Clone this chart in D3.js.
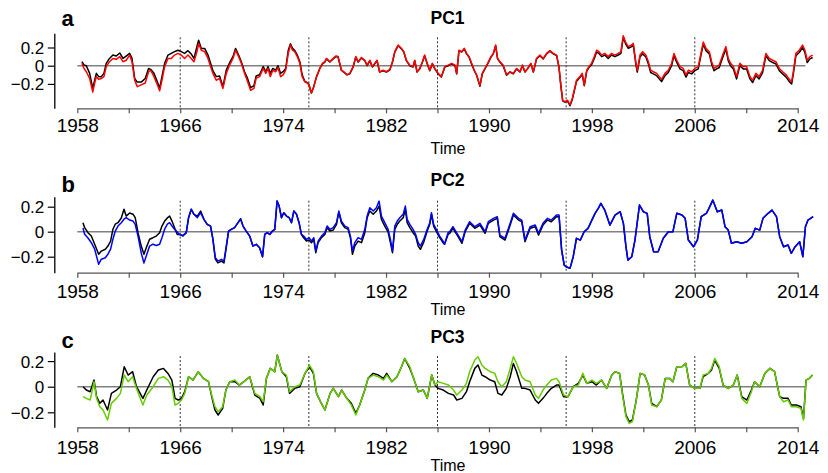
<!DOCTYPE html>
<html><head><meta charset="utf-8">
<script src="https://cdn.jsdelivr.net/npm/d3@7"></script>
<style>body{margin:0;background:#fff}svg{display:block;font-family:"Liberation Sans",Arial,Helvetica,sans-serif}</style>
</head><body><svg id="c" width="828" height="473"></svg>
<script>
const xTicks=[1958,1962,1966,1970,1974,1978,1982,1986,1990,1994,1998,2002,2006,2010,2014];
const xLabels=[1958,1966,1974,1982,1990,1998,2006,2014];
const breakYears=[1966,1976,1986,1996,2006];
const yTicks=[-0.2,0,0.2];
const panelTitles=["PC1","PC2","PC3"];
const panelLetters=["a","b","c"];
const seriesColors=["#ff0000","#0000ff","#66cc00"];

const pc1Years=[
1958.36,1958.52,1958.7,1958.96,1959.2,1959.35,1959.48,1959.66,1959.87,1960.07,
1960.25,1960.5,1960.77,1961.03,1961.3,1961.55,1961.8,1962.07,1962.25,1962.46,
1962.66,1962.97,1963.28,1963.54,1963.7,1963.96,1964.22,1964.4,1964.58,1964.79,
1965.05,1965.3,1965.56,1965.82,1966.08,1966.34,1966.6,1966.86,1967.07,1967.33,
1967.43,1967.64,1967.9,1968.16,1968.36,1968.54,1968.8,1969.06,1969.32,1969.58,
1969.84,1970.1,1970.3,1970.54,1970.75,1971.0,1971.2,1971.47,1971.73,1971.9,
1972.17,1972.45,1972.65,1972.83,1973.0,1973.2,1973.43,1973.6,1973.8,1974.0,
1974.2,1974.4,1974.57,1974.73,1974.9,1975.1,1975.3,1975.48,1975.68,1975.87,
1976.0,1976.2,1976.38,1976.6,1976.85,1977.06,1977.24,1977.37,1977.63,1977.89,
1978.1,1978.27,1978.53,1978.71,1978.97,1979.18,1979.44,1979.65,1979.83,1980.09,
1980.35,1980.53,1980.74,1980.94,1981.12,1981.3,1981.5,1981.77,1982.03,1982.3,
1982.5,1982.68,1982.94,1983.2,1983.38,1983.58,1983.84,1984.1,1984.23,1984.41,
1984.62,1984.83,1985.0,1985.2,1985.4,1985.6,1985.79,1986.05,1986.3,1986.57,
1986.84,1987.1,1987.36,1987.49,1987.67,1987.88,1988.08,1988.26,1988.45,1988.65,
1988.86,1989.04,1989.3,1989.48,1989.69,1989.9,1990.16,1990.34,1990.52,1990.67,
1990.85,1991.1,1991.37,1991.63,1991.89,1992.15,1992.41,1992.6,1992.8,1993.0,
1993.26,1993.45,1993.7,1993.96,1994.22,1994.48,1994.74,1995.0,1995.26,1995.44,
1995.6,1995.73,1995.9,1996.11,1996.3,1996.48,1996.63,1996.81,1997.07,1997.25,
1997.41,1997.6,1997.77,1997.98,1998.19,1998.37,1998.55,1998.76,1999.0,1999.27,
1999.53,1999.79,2000.05,2000.26,2000.44,2000.62,2000.83,2001.09,2001.22,2001.43,
2001.53,2001.74,2001.95,2002.2,2002.39,2002.57,2002.78,2003.04,2003.24,2003.42,
2003.68,2003.94,2004.2,2004.38,2004.6,2004.85,2005.1,2005.32,2005.5,2005.76,
2006.0,2006.27,2006.45,2006.66,2006.87,2007.13,2007.31,2007.5,2007.7,2007.9,
2008.17,2008.42,2008.6,2008.78,2009.0,2009.25,2009.5,2009.77,2010.03,2010.29,
2010.5,2010.75,2011.0,2011.27,2011.53,2011.79,2012.05,2012.3,2012.57,2012.83,
2013.1,2013.35,2013.53,2013.66,2013.86,2014.12,2014.38,2014.56,2014.74,2014.95,
2015.16];
const pc1Color=[
0.026,-0.03,-0.066,-0.14,-0.29,-0.19,-0.12,-0.15,-0.14,-0.12,
-0.01,0.044,0.08,0.07,0.1,0.044,0.06,0.117,0.044,-0.16,
-0.23,-0.21,-0.19,-0.066,-0.05,-0.12,-0.21,-0.275,-0.16,-0.01,
0.08,0.08,0.117,0.135,0.117,0.08,0.117,0.08,0.044,0.17,
0.245,0.17,0.154,0.08,-0.01,-0.084,-0.16,-0.14,-0.25,-0.084,
0.007,0.08,0.17,0.1,0.026,-0.084,-0.16,-0.27,-0.25,-0.14,
-0.12,-0.03,-0.084,-0.03,-0.12,-0.05,-0.066,-0.02,-0.12,-0.1,
-0.05,0.135,0.227,0.17,0.154,0.1,0.026,-0.12,-0.176,-0.19,
-0.21,-0.3,-0.23,-0.12,-0.03,0.026,0.044,0.08,0.044,0.08,
0.106,0.1,-0.05,-0.066,-0.1,-0.084,-0.01,0.1,0.044,0.09,
0.06,0.007,0.06,-0.01,0.026,0.06,-0.066,-0.05,-0.066,-0.04,
0.044,0.154,0.227,0.19,0.154,0.06,0.007,-0.01,0.06,-0.066,
-0.03,0.044,0.117,0.026,-0.05,0.026,-0.03,-0.084,-0.12,-0.01,
0.007,0.026,0.007,-0.084,0.17,0.154,0.19,0.135,0.1,0.026,
-0.05,-0.1,-0.22,-0.084,-0.03,0.026,0.1,0.135,0.227,0.08,
0.044,0.007,-0.1,-0.066,-0.084,-0.03,-0.066,0.007,-0.066,-0.03,
0.026,-0.066,0.08,0.117,0.08,0.135,0.165,0.135,0.117,-0.01,
-0.23,-0.38,-0.395,-0.38,-0.43,-0.36,-0.27,-0.16,-0.12,-0.084,
-0.21,-0.05,-0.01,0.026,0.1,0.17,0.154,0.117,0.135,0.1,
0.135,0.117,0.135,0.154,0.33,0.26,0.21,0.227,0.245,0.026,
-0.05,0.117,0.154,0.117,0.044,-0.05,-0.066,-0.084,-0.12,-0.15,
-0.084,-0.05,0.026,0.135,0.06,-0.01,-0.03,-0.1,-0.05,-0.066,
-0.03,-0.01,0.117,0.26,0.19,0.154,0.044,-0.03,-0.01,0.007,
0.117,0.21,0.08,0.026,-0.01,-0.12,0.026,-0.01,-0.01,-0.12,
-0.16,-0.084,-0.12,-0.05,0.135,0.08,0.06,0.044,-0.03,-0.066,
-0.1,-0.15,-0.176,-0.066,0.135,0.17,0.227,0.17,0.06,0.1,
0.117];
const pc1Black=[
0.044,0.007,0.0,-0.084,-0.25,-0.16,-0.084,-0.12,-0.12,-0.084,
0.026,0.08,0.117,0.106,0.14,0.08,0.106,0.135,0.08,-0.14,
-0.18,-0.18,-0.14,-0.03,-0.04,-0.084,-0.176,-0.25,-0.12,0.026,
0.117,0.135,0.154,0.17,0.154,0.135,0.165,0.128,0.08,0.227,
0.28,0.19,0.19,0.117,0.026,-0.055,-0.12,-0.114,-0.23,-0.048,
0.033,0.1,0.19,0.117,0.044,-0.066,-0.128,-0.24,-0.22,-0.114,
-0.1,-0.01,-0.066,-0.01,-0.084,-0.03,-0.048,0.0,-0.084,-0.066,
-0.03,0.17,0.24,0.19,0.17,0.117,0.044,-0.1,-0.17,-0.185,
-0.205,-0.3,-0.23,-0.12,-0.03,0.02,0.04,0.075,0.04,0.075,
0.1,0.095,-0.05,-0.07,-0.1,-0.09,-0.015,0.095,0.04,0.085,
0.055,0.0,0.055,-0.015,0.02,0.055,-0.07,-0.055,-0.07,-0.045,
0.04,0.15,0.22,0.185,0.15,0.055,0.0,-0.015,0.055,-0.07,
-0.035,0.04,0.11,0.02,-0.055,0.02,-0.035,-0.09,-0.125,-0.015,
0.0,0.02,0.0,-0.09,0.165,0.15,0.185,0.13,0.095,0.02,
-0.055,-0.105,-0.225,-0.09,-0.035,0.02,0.095,0.13,0.22,0.075,
0.04,0.0,-0.105,-0.07,-0.09,-0.035,-0.07,0.0,-0.07,-0.035,
0.02,-0.07,0.075,0.11,0.075,0.13,0.16,0.13,0.11,-0.015,
-0.235,-0.385,-0.4,-0.39,-0.44,-0.37,-0.28,-0.17,-0.13,-0.095,
-0.22,-0.06,-0.02,0.01,0.08,0.15,0.135,0.1,0.117,0.08,
0.117,0.1,0.117,0.135,0.31,0.24,0.19,0.21,0.225,0.005,
-0.07,0.095,0.13,0.095,0.02,-0.075,-0.09,-0.11,-0.145,-0.175,
-0.11,-0.075,0.0,0.11,0.035,-0.035,-0.055,-0.125,-0.075,-0.09,
-0.055,-0.035,0.095,0.235,0.165,0.13,0.02,-0.055,-0.035,-0.02,
0.09,0.185,0.055,0.0,-0.035,-0.145,0.0,-0.035,-0.035,-0.145,
-0.185,-0.11,-0.145,-0.075,0.11,0.055,0.035,0.02,-0.055,-0.09,
-0.125,-0.175,-0.2,-0.09,0.11,0.145,0.2,0.145,0.035,0.075,
0.09];

const pc2Years=[
1958.44,1958.57,1958.83,1959.09,1959.35,1959.66,1959.87,1960.18,1960.38,1960.59,
1960.77,1960.95,1961.16,1961.42,1961.63,1961.8,1962.07,1962.33,1962.5,1962.72,
1962.97,1963.18,1963.36,1963.62,1963.88,1964.14,1964.4,1964.58,1964.79,1965.0,
1965.18,1965.36,1965.56,1965.77,1965.95,1966.21,1966.47,1966.65,1966.86,1967.07,
1967.33,1967.59,1967.84,1968.1,1968.36,1968.54,1968.73,1968.93,1969.2,1969.4,
1969.58,1969.76,1969.97,1970.23,1970.49,1970.7,1970.88,1971.13,1971.4,1971.65,
1971.91,1972.17,1972.4,1972.57,1972.76,1972.96,1973.17,1973.35,1973.53,1973.69,
1973.87,1974.05,1974.26,1974.47,1974.65,1974.83,1975.04,1975.24,1975.42,1975.6,
1975.81,1976.02,1976.2,1976.38,1976.54,1976.72,1976.98,1977.24,1977.42,1977.63,
1977.89,1978.15,1978.33,1978.53,1978.8,1979.05,1979.23,1979.39,1979.57,1979.83,
1980.09,1980.35,1980.53,1980.74,1981.0,1981.25,1981.46,1981.64,1981.9,1982.16,
1982.34,1982.5,1982.68,1982.87,1983.07,1983.33,1983.5,1983.64,1983.85,1984.1,
1984.3,1984.5,1984.67,1984.93,1985.2,1985.4,1985.53,1985.7,1985.9,1986.17,
1986.43,1986.55,1986.82,
1986.95,1987.2,1987.6,1987.9,1988.15,1988.5,1988.9,1989.3,1989.7,1989.95,
1990.35,1990.65,1990.85,1991.25,1991.65,1991.9,1992.3,1992.55,1992.8,1993.2,
1993.6,1993.85,1994.2,1994.55,1994.85,1995.25,1995.45,1995.65,1995.85,1996.0,
1996.3,1996.55,1996.8,1997.1,1997.4,1997.7,1998.0,1998.25,1998.5,1998.7,
1999.0,1999.4,1999.8,2000.2,2000.45,2000.65,2000.8,2001.1,2001.35,2001.7,
2002.0,2002.3,2002.5,2002.8,2003.15,2003.55,2003.95,2004.3,2004.6,2005.0,
2005.25,2005.5,2005.9,2006.2,2006.5,2006.9,2007.1,2007.4,2007.75,2008.1,
2008.35,2008.6,2008.85,2009.25,2009.65,2010.05,2010.45,2010.7,2011.05,2011.3,
2011.7,2012.0,2012.35,2012.6,2012.9,2013.25,2013.5,2013.8,2014.15,2014.4,
2014.6,2014.8,2015.2];
const pc2Color=[
0.03,-0.02,-0.05,-0.088,-0.14,-0.26,-0.22,-0.208,-0.18,-0.14,
-0.06,0.005,0.045,0.072,0.1,0.112,0.093,0.085,0.059,-0.035,
-0.17,-0.25,-0.195,-0.115,-0.1,-0.11,-0.1,-0.048,0.02,0.06,
0.072,0.045,0.02,-0.003,-0.022,-0.03,-0.008,0.112,0.179,0.139,
0.112,0.152,0.099,0.059,0.045,-0.06,-0.208,-0.235,-0.221,-0.235,
-0.115,0.005,0.019,0.032,0.072,0.099,0.045,0.005,-0.035,-0.115,
-0.101,-0.128,-0.2,-0.022,-0.008,-0.022,0.005,0.019,0.245,0.205,
0.112,0.152,0.125,0.112,0.072,0.165,0.139,0.072,-0.022,-0.035,
-0.062,-0.048,-0.075,-0.048,-0.155,-0.075,-0.035,-0.008,0.045,0.019,
0.032,0.072,0.165,0.085,0.045,0.032,-0.035,-0.155,-0.088,-0.048,
-0.062,0.019,0.125,0.192,0.165,0.192,0.245,0.125,0.072,0.019,
-0.062,-0.155,0.045,0.085,0.112,0.139,0.205,0.099,0.059,0.019,
-0.022,-0.088,-0.115,-0.062,0.019,0.072,0.152,0.059,0.019,-0.035,
-0.075,-0.101,-0.008,
0.0,0.04,-0.027,-0.08,0.013,0.08,0.04,0.067,0.0,0.08,
0.107,0.12,-0.027,-0.053,0.067,0.147,0.107,0.093,-0.067,0.04,
0.053,-0.013,0.067,0.107,0.093,0.133,0.133,-0.147,-0.267,-0.28,
-0.293,-0.2,-0.053,-0.067,0.0,0.027,0.093,0.147,0.187,0.227,
0.173,0.053,0.133,0.16,0.067,-0.12,-0.227,-0.2,-0.067,0.213,
0.16,0.147,-0.04,-0.16,-0.16,-0.053,0.0,0.0,0.147,0.133,
0.107,-0.067,-0.12,-0.067,0.12,0.147,0.187,0.253,0.16,0.173,
0.04,0.013,-0.093,-0.08,-0.093,-0.08,-0.04,0.027,0.013,0.107,
0.147,0.173,0.12,-0.04,-0.12,-0.107,-0.173,-0.12,-0.08,-0.2,
0.04,0.093,0.12];
const pc2Black=[
0.072,0.032,-0.008,-0.035,-0.1,-0.18,-0.155,-0.14,-0.115,-0.075,
0.02,0.06,0.072,0.11,0.18,0.125,0.15,0.14,0.112,-0.008,
-0.115,-0.18,-0.128,-0.06,-0.048,-0.035,-0.008,0.045,0.085,0.11,
0.125,0.085,0.032,-0.022,-0.022,-0.035,-0.008,0.112,0.179,0.139,
0.125,0.165,0.099,0.059,0.045,-0.06,-0.22,-0.25,-0.235,-0.25,
-0.128,0.005,0.019,0.032,0.072,0.104,0.045,0.005,-0.035,-0.115,
-0.101,-0.128,-0.2,-0.022,-0.008,-0.022,0.005,0.019,0.245,0.205,
0.112,0.152,0.125,0.112,0.072,0.165,0.139,0.072,-0.022,-0.048,
-0.075,-0.067,-0.088,-0.062,-0.168,-0.088,-0.048,-0.022,0.032,0.005,
0.013,0.059,0.157,0.072,0.032,0.019,-0.048,-0.181,-0.115,-0.075,
-0.088,-0.008,0.112,0.165,0.139,0.165,0.205,0.099,0.045,-0.003,
-0.088,-0.168,0.019,0.059,0.085,0.112,0.179,0.072,0.032,-0.008,
-0.035,-0.115,-0.141,-0.083,0.005,0.059,0.139,0.045,0.005,-0.048,
-0.088,-0.101,-0.022,
-0.013,0.027,-0.04,-0.093,0.0,0.067,0.027,0.053,-0.013,0.067,
0.093,0.107,-0.04,-0.067,0.053,0.133,0.093,0.08,-0.08,0.027,
0.04,-0.027,0.053,0.093,0.08,0.12,0.12,-0.147,-0.267,-0.28,
-0.293,-0.2,-0.053,-0.067,0.0,0.027,0.093,0.147,0.187,0.227,
0.173,0.053,0.133,0.16,0.067,-0.12,-0.227,-0.2,-0.067,0.213,
0.16,0.147,-0.04,-0.16,-0.16,-0.053,0.0,0.0,0.147,0.133,
0.107,-0.067,-0.12,-0.067,0.12,0.147,0.187,0.253,0.16,0.173,
0.04,0.013,-0.093,-0.08,-0.093,-0.08,-0.04,0.027,0.013,0.107,
0.147,0.173,0.12,-0.04,-0.12,-0.107,-0.173,-0.12,-0.08,-0.2,
0.04,0.093,0.12];

const pc3Years=[1958.45,1958.7,1959.0,1959.3,1959.5,1959.75,1960.0,1960.35,1960.65,1961.05,1961.35,1961.65,1961.95,1962.3,1962.6,1963.1,1963.4,1963.9,1964.3,1964.7,1965.05,1965.35,1965.6,1965.85,1966.1,1966.35,1966.65,1967.0,1967.4,1967.8,1968.2,1968.45,1968.7,1968.95,1969.3,1969.55,1969.85,1970.25,1970.6,1970.95,1971.4,1971.8,1972.2,1972.45,1972.7,1973.0,1973.35,1973.55,1973.9,1974.25,1974.5,1974.9,1975.3,1975.7,1976.05,1976.35,1976.6,1976.9,1977.25,1977.65,1977.9,1978.3,1978.55,1978.95,1979.3,1979.65,1979.95,1980.35,1980.6,1981.0,1981.4,1981.8,1982.05,1982.45,1982.85,1983.2,1983.45,1983.85,1984.1,1984.5,1984.9,1985.2,1985.55,1985.8,1986.05,1986.45,1986.85,1987.25,1987.5,1987.9,1988.25,1988.5,1988.9,1989.15,1989.45,1989.7,1990.1,1990.45,1990.7,1991.0,1991.35,1991.65,1991.9,1992.15,1992.55,1992.8,1993.2,1993.6,1993.85,1994.2,1994.5,1994.85,1995.25,1995.45,1995.8,1996.15,1996.55,1996.95,1997.3,1997.6,1998.0,1998.35,1998.75,1999.15,1999.55,1999.8,2000.15,2000.4,2000.65,2000.9,2001.15,2001.45,2001.75,2002.1,2002.4,2002.65,2003.05,2003.4,2003.7,2004.05,2004.3,2004.6,2005.0,2005.3,2005.6,2006.0,2006.4,2006.65,2007.05,2007.3,2007.55,2007.9,2008.2,2008.6,2009.0,2009.3,2009.65,2010.05,2010.4,2010.65,2011.05,2011.45,2011.85,2012.2,2012.6,2012.9,2013.25,2013.5,2013.9,2014.25,2014.45,2014.65,2014.9,2015.15];
const pc3Color=[-0.078,-0.091,-0.104,0.039,-0.091,-0.156,-0.182,-0.26,-0.13,-0.091,-0.052,0.091,0.039,0.078,-0.013,-0.143,-0.065,0.0,0.065,0.078,0.052,0.0,-0.143,-0.13,-0.104,-0.052,0.078,0.052,0.117,0.065,0.039,-0.065,-0.156,-0.195,-0.156,-0.026,0.039,0.052,0.013,0.039,0.078,-0.052,-0.078,-0.117,0.065,0.143,0.117,0.247,0.117,0.091,-0.039,0.0,0.013,0.104,0.169,0.117,-0.052,-0.117,-0.182,-0.052,-0.013,-0.078,-0.026,-0.091,-0.143,-0.221,-0.143,-0.026,0.065,0.091,0.078,0.052,0.091,0.039,0.078,0.156,0.221,0.156,0.078,-0.039,-0.026,-0.091,0.091,0.013,0.039,0.026,0.013,-0.026,-0.065,-0.026,0.026,0.117,0.208,0.234,0.169,0.143,0.117,0.104,0.039,0.0,0.039,0.143,0.234,0.182,0.078,0.052,0.039,-0.065,-0.091,-0.026,0.013,0.052,0.065,0.039,-0.065,-0.078,0.0,0.013,0.104,0.026,0.052,0.026,0.052,-0.013,0.091,0.117,0.104,-0.078,-0.234,-0.286,-0.273,-0.104,0.104,0.091,0.013,-0.143,-0.156,-0.104,0.065,0.065,0.039,0.156,0.156,0.182,0.013,-0.013,-0.013,0.091,0.104,0.143,0.221,0.156,0.013,-0.013,0.013,0.091,-0.091,-0.13,-0.039,0.039,0.0,0.104,0.143,0.117,-0.078,-0.117,-0.104,-0.156,-0.156,-0.169,-0.26,0.052,0.065,0.091];
const pc3Black=[0.0,-0.026,-0.039,0.052,-0.078,-0.13,-0.104,-0.182,-0.052,-0.026,0.0,0.156,0.091,0.117,0.0,-0.091,-0.026,0.078,0.13,0.143,0.104,0.052,-0.091,-0.104,-0.091,-0.039,0.078,0.052,0.117,0.065,0.039,-0.078,-0.182,-0.221,-0.169,-0.026,0.039,0.039,0.013,0.039,0.078,-0.065,-0.091,-0.143,0.065,0.143,0.117,0.247,0.117,0.078,-0.052,-0.013,0.0,0.104,0.156,0.104,-0.052,-0.117,-0.182,-0.052,-0.013,-0.078,-0.026,-0.091,-0.13,-0.208,-0.143,-0.026,0.065,0.104,0.091,0.065,0.104,0.039,0.078,0.156,0.221,0.143,0.078,-0.039,-0.026,-0.091,0.091,0.013,-0.013,-0.026,-0.052,-0.065,-0.104,-0.091,-0.039,0.039,0.143,0.169,0.091,0.078,0.052,0.039,-0.052,-0.065,-0.013,0.078,0.182,0.117,-0.013,-0.013,-0.026,-0.104,-0.13,-0.091,-0.052,-0.013,0.013,0.013,-0.078,-0.078,0.0,0.026,0.091,0.026,0.039,0.013,0.052,-0.013,0.091,0.117,0.104,-0.065,-0.221,-0.273,-0.26,-0.104,0.104,0.091,0.013,-0.13,-0.156,-0.104,0.065,0.065,0.039,0.156,0.156,0.182,0.013,-0.013,-0.013,0.078,0.104,0.13,0.208,0.143,0.013,-0.013,0.013,0.091,-0.078,-0.104,-0.026,0.039,0.0,0.104,0.143,0.117,-0.078,-0.091,-0.091,-0.143,-0.143,-0.156,-0.247,0.052,0.065,0.091];

const panels=[
  {years:pc1Years,black:pc1Black,color:pc1Color},
  {years:pc2Years,black:pc2Black,color:pc2Color},
  {years:pc3Years,black:pc3Black,color:pc3Color}
];
const layout=[
  {top:33.3,bottom:108.3,lo:-0.468,hi:0.356,titleY:24,letterY:26,labelY:132.5,timeY:154},
  {top:196.7,bottom:272.7,lo:-0.328,hi:0.28,titleY:186,letterY:192,labelY:298,timeY:315},
  {top:352,bottom:427.3,lo:-0.317,hi:0.271,titleY:343,letterY:347.5,labelY:454.5,timeY:471}
];
const svg=d3.select("#c");
const x=d3.scaleLinear().domain([1958,2014]).range([77.3,797.7]);
const fmtY=d=>d===0?"0":(d<0?"\u2212":"")+Math.abs(d).toFixed(1);

panels.forEach((p,i)=>{
  const L=layout[i];
  const y=d3.scaleLinear().domain([L.lo,L.hi]).range([L.bottom,L.top]);
  const g=svg.append("g");
  g.append("line").attr("x1",x(1958)).attr("x2",x(2014.6)).attr("y1",y(0)).attr("y2",y(0))
    .attr("stroke","#808080").attr("stroke-width",1.6);
  breakYears.forEach(b=>{
    g.append("line").attr("x1",x(b)).attr("x2",x(b)).attr("y1",L.top+4).attr("y2",L.bottom)
      .attr("stroke","#333").attr("stroke-width",1).attr("stroke-dasharray","2,2");
  });
  const mk=(vals)=>d3.line().defined((d,k)=>d!==undefined&&p.years[k]!==undefined)
      .x((d,k)=>x(p.years[k])).y(d=>y(d))(vals);
  g.append("path").attr("d",mk(p.black)).attr("fill","none").attr("stroke","#000").attr("stroke-width",1.5).attr("stroke-linejoin","round");
  g.append("path").attr("d",mk(p.color)).attr("fill","none").attr("stroke",seriesColors[i]).attr("stroke-width",1.5).attr("stroke-linejoin","round");
  const ya=g.append("g").attr("transform","translate(54.3,0)")
    .call(d3.axisLeft(y).tickValues(yTicks).tickSize(6.5).tickSizeOuter(0).tickFormat(fmtY));
  ya.select(".domain").attr("stroke","#000").attr("stroke-width",1.3);
  ya.selectAll(".tick line").attr("stroke","#000").attr("stroke-width",1.2);
  ya.selectAll(".tick text").attr("font-size",17).attr("font-family","Liberation Sans, Arial, sans-serif").attr("fill","#000").attr("x",-10).attr("dy","0.35em");
  const xa=g.append("g").attr("transform",`translate(0,${L.bottom})`)
    .call(d3.axisBottom(x).tickValues(xTicks).tickSize(5).tickSizeOuter(0).tickFormat(d=>xLabels.includes(d)?String(d):""));
  xa.select(".domain").attr("stroke","#555").attr("stroke-width",1.3);
  xa.selectAll(".tick line").attr("stroke","#555").attr("stroke-width",1.2);
  xa.selectAll(".tick text").attr("font-size",19).attr("font-family","Liberation Sans, Arial, sans-serif").attr("fill","#000").attr("y",L.labelY-L.bottom).attr("dy",0);
  g.append("text").attr("x",447.5).attr("y",L.titleY).attr("text-anchor","middle").attr("font-weight","bold").attr("font-size",17.5).text(panelTitles[i]);
  g.append("text").attr("x",61.5).attr("y",L.letterY).attr("font-weight","bold").attr("font-size",22).text(panelLetters[i]);
  g.append("text").attr("x",448).attr("y",L.timeY).attr("text-anchor","middle").attr("font-size",16).text("Time");
});
</script></body></html>
